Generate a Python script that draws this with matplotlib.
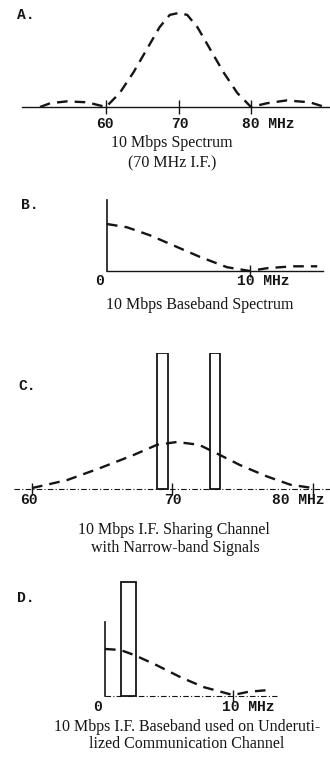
import matplotlib
matplotlib.use('Agg')
import matplotlib.pyplot as plt

# ---- data (relative level, main peak = 1) ----
# A. 10 Mbps spectrum around 70 MHz I.F.
a_freq = [50.9, 52.3, 54.6, 57.4, 60.0, 61.9, 63.8, 65.6, 67.4, 68.8, 70.0,
          71.2, 72.6, 74.4, 76.2, 78.1, 80.0, 82.2, 84.9, 88.1, 90.2]
a_level = [0.0, 0.04, 0.06, 0.05, 0.0, 0.15, 0.37, 0.61, 0.85, 0.98, 1.0,
           0.98, 0.85, 0.61, 0.37, 0.15, 0.0, 0.04, 0.07, 0.05, 0.0]
a_ticks = [60, 70, 80]

# B. 10 Mbps baseband spectrum
b_freq = [0.0, 1.4, 3.0, 4.6, 6.5, 8.4, 10.0, 11.2, 13.0, 14.7]
b_level = [1.0, 0.93, 0.76, 0.55, 0.30, 0.08, 0.0, 0.06, 0.10, 0.10]
b_ticks = [10]

# C. I.F. channel shared with narrow-band signals
c_freq = [60.0, 62.5, 64.8, 67.2, 68.9, 70.3, 71.9, 73.4, 74.8, 76.7, 78.4, 80.0]
c_level = [0.02, 0.19, 0.44, 0.72, 0.94, 1.0, 0.94, 0.72, 0.51, 0.27, 0.09, 0.02]
c_ticks = [60, 70, 80]
c_bar_lo = [68.9, 72.7]
c_bar_hi = [69.7, 73.4]
c_bar_level = [2.9, 2.9]

# D. baseband on an under-utilized channel
d_freq = [0.0, 1.2, 2.3, 4.0, 5.9, 7.7, 10.0, 11.2, 12.9]
d_level = [1.0, 0.98, 0.87, 0.66, 0.40, 0.19, 0.02, 0.09, 0.13]
d_ticks = [10]
d_bar_lo = [1.25]
d_bar_hi = [2.4]
d_bar_level = [2.43]

W, H = 330, 761
INK = '#151515'
MONO = 'Liberation Mono'
SERIF = 'Liberation Serif'

fig = plt.figure(figsize=(W / 100, H / 100), dpi=100, facecolor='white')


def make_ax(top, bottom, x_px, x_val, px_x, base_px, px_y):
    # axes spanning the full width, data units mapped to pixel positions
    ax = fig.add_axes([0, 1 - bottom / H, 1, (bottom - top) / H])
    ax.set_xlim(x_val - x_px / px_x, x_val + (W - x_px) / px_x)
    ax.set_ylim(-(bottom - base_px) / px_y, (base_px - top) / px_y)
    ax.axis('off')
    return ax


def ftext(x, y, s, **kw):
    fig.text(x / W, 1 - y / H, s, color=INK, **kw)


def dashed(ax, f, lv):
    ax.plot(f, lv, color=INK, lw=1.7, dashes=(4.5, 3.0), solid_capstyle='butt')


def ticks(ax, t, size):
    ax.vlines(t, -size, size, color=INK, lw=1.0)


def bars(ax, lo, hi, lv):
    widths = [h - l for l, h in zip(lo, hi)]
    ax.bar(lo, lv, width=widths, align='edge', fill=False,
           edgecolor=INK, linewidth=1.3)


mono_kw = dict(family=MONO, fontsize=10.5, fontweight='bold', va='center')
cap_kw = dict(family=SERIF, fontsize=11.5, ha='center', va='center')

# ---------------- A ----------------
ax = make_ax(0, 190, 106, 60, 7.25, 107, 94)
ax.plot([48.4, 90.9], [0, 0], color=INK, lw=1.0)
ticks(ax, a_ticks, 0.07)
dashed(ax, a_freq, a_level)
ftext(17, 15, 'A.', ha='left', **mono_kw)
ftext(105, 124, '60', ha='center', **mono_kw)
ftext(180, 124, '70', ha='center', **mono_kw)
ftext(242, 124, '80 MHz', ha='left', **mono_kw)
ftext(172, 143, '10 Mbps Spectrum', **cap_kw)
ftext(172, 163, '(70 MHz I.F.)', **cap_kw)

# ---------------- B ----------------
ax = make_ax(190, 330, 107, 0, 14.3, 271, 47)
ax.plot([0, 15.1], [0, 0], color=INK, lw=1.0)
ax.plot([0, 0], [0, 71 / 47], color=INK, lw=1.2)
ticks(ax, b_ticks, 0.12)
dashed(ax, b_freq, b_level)
ftext(21, 205, 'B.', ha='left', **mono_kw)
ftext(99, 281, '0', ha='center', **mono_kw)
ftext(237, 281, '10 MHz', ha='left', **mono_kw)
ftext(200, 305, '10 Mbps Baseband Spectrum', **cap_kw)

# ---------------- C ----------------
ax = make_ax(353, 560, 32, 60, 14.05, 489, 47)
ax.plot([58.7, 81.2], [0, 0], color=INK, lw=0.8, dashes=(5, 2, 1, 2))
ticks(ax, c_ticks, 0.12)
bars(ax, c_bar_lo, c_bar_hi, c_bar_level)
dashed(ax, c_freq, c_level)
ftext(18, 386, 'C.', ha='left', **mono_kw)
ftext(29, 500, '60', ha='center', **mono_kw)
ftext(173, 500, '70', ha='center', **mono_kw)
ftext(324, 500, '80 MHz', ha='right', **mono_kw)
ftext(174, 530, '10 Mbps I.F. Sharing Channel', **cap_kw)
ftext(175, 548, 'with Narrow-band Signals', **cap_kw)

# ---------------- D ----------------
ax = make_ax(581, 761, 105, 0, 12.8, 696, 47)
ax.plot([0, 13.4], [0, 0], color=INK, lw=0.8, dashes=(5, 2, 1, 2))
ax.plot([0, 0], [0, 74 / 47], color=INK, lw=1.2)
ticks(ax, d_ticks, 0.12)
bars(ax, d_bar_lo, d_bar_hi, d_bar_level)
dashed(ax, d_freq, d_level)
ftext(17, 598, 'D.', ha='left', **mono_kw)
ftext(97, 707, '0', ha='center', **mono_kw)
ftext(222, 707, '10 MHz', ha='left', **mono_kw)
ftext(187, 727, '10 Mbps I.F. Baseband used on Underuti-', **cap_kw)
ftext(187, 744, 'lized Communication Channel', **cap_kw)

fig.savefig('out.png', dpi=100, facecolor='white')
